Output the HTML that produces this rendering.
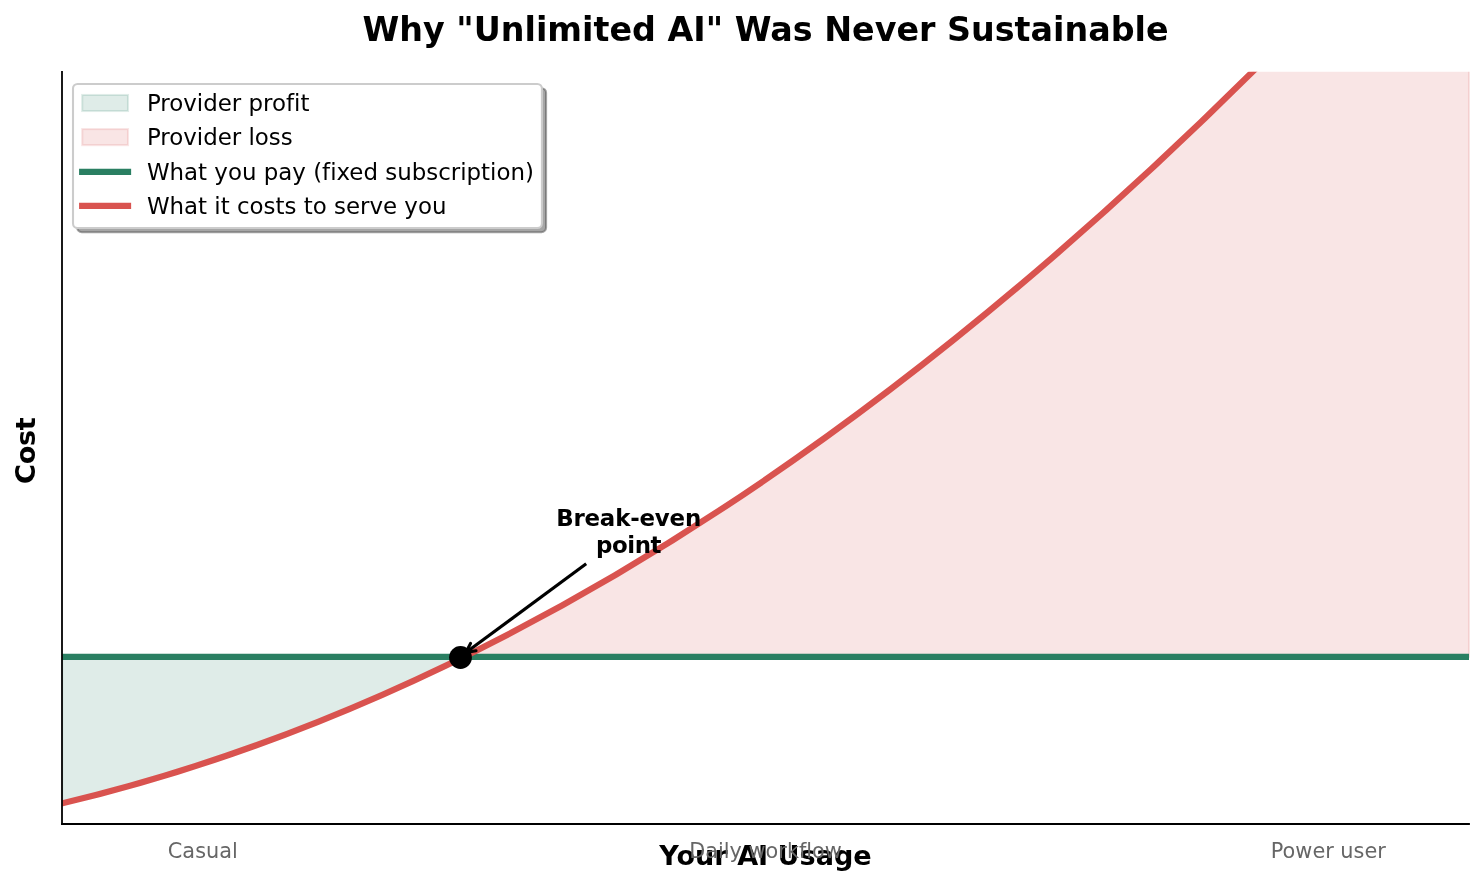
<!DOCTYPE html>
<html lang="en"><head><meta charset="utf-8"><title>Why "Unlimited AI" Was Never Sustainable</title>
<style>html,body{margin:0;padding:0;background:#fff}svg{display:block}</style></head>
<body>
<svg width="1484" height="886" viewBox="0 0 1484 886" font-family="DejaVu Sans, Liberation Sans, sans-serif" style="font-variant-ligatures:none">
<rect width="1484" height="886" fill="#fff"/>
<defs><clipPath id="ax"><rect x="62.1" y="71.85" width="1406.90" height="751.85"/></clipPath><clipPath id="axf"><rect x="62.1" y="71.85" width="1408.00" height="751.85"/></clipPath></defs>
<g clip-path="url(#axf)">
<path d="M62.1 656.9 L62.1 803.39 Q262.95 755.71 463.80 656.90 Z" fill="#2a7f62" fill-opacity="0.15" stroke="#2a7f62" stroke-opacity="0.15" stroke-width="2.08" stroke-linejoin="round"/>
<path d="M463.80 656.9 Q966.40 409.65 1469.00 -157.75 L1469.0 656.9 Z" fill="#d9534f" fill-opacity="0.15" stroke="#d9534f" stroke-opacity="0.15" stroke-width="2.08" stroke-linejoin="round"/>
</g>
<g clip-path="url(#ax)">
<path d="M57.1 656.9 H1474.0" stroke="#2a7f62" stroke-width="6.25" fill="none"/>
<path d="M52.1 805.73 Q760.55 642.03 1469.00 -157.75" stroke="#d9534f" stroke-width="6.25" fill="none"/>
</g>
<circle cx="460.5" cy="657.5" r="11.4" fill="#000"/>
<path d="M62 70.95 V824.90" stroke="#000" stroke-width="1.8" fill="none"/>
<path d="M61.10 824 H1469.90" stroke="#000" stroke-width="1.8" fill="none"/>
<text x="765.55" y="864.75" font-size="27.08" font-weight="bold" fill="#000" text-anchor="middle">Your AI Usage</text>
<text x="202.8" y="857.6" font-size="20.83" fill="#666" text-anchor="middle">Casual</text>
<text x="765.55" y="857.6" font-size="20.83" fill="#666" text-anchor="middle">Daily workflow</text>
<text x="1328.3" y="857.6" font-size="20.83" fill="#666" text-anchor="middle">Power user</text>
<text transform="translate(35.2 450.6) rotate(-90)" font-size="27.08" font-weight="bold" fill="#000" text-anchor="middle" textLength="66.7" lengthAdjust="spacing">Cost</text>
<text x="765.55" y="41" font-size="33.33" font-weight="bold" fill="#000" text-anchor="middle">Why "Unlimited AI" Was Never Sustainable</text>
<path d="M586.2 563.8 L465.9 652.5" stroke="#000" stroke-width="3.125" fill="none" stroke-linecap="butt"/>
<path d="M476.00 650.75 L465.9 652.5 L470.56 643.37" stroke="#000" stroke-width="3.125" fill="none" stroke-linecap="round" stroke-linejoin="round"/>
<text x="628.7" y="525.6" font-size="22.92" font-weight="bold" fill="#000" text-anchor="middle" textLength="145.1" lengthAdjust="spacing">Break-even</text>
<text x="628.7" y="552.7" font-size="22.92" font-weight="bold" fill="#000" text-anchor="middle" textLength="65.6" lengthAdjust="spacing">point</text>
<rect x="77.17" y="88.17" width="468.90" height="144.00" rx="4.58" fill="#4d4d4d" fill-opacity="0.5" stroke="#4d4d4d" stroke-opacity="0.5" stroke-width="2.08"/>
<rect x="73.0" y="84.0" width="468.90" height="144.00" rx="4.58" fill="#fff" stroke="#ccc" stroke-width="2.08"/>
<rect x="82.2" y="94.98" width="45.80" height="16.04" fill="#2a7f62" fill-opacity="0.15" stroke="#2a7f62" stroke-opacity="0.15" stroke-width="2.08"/>
<rect x="82.2" y="129.08" width="45.80" height="16.04" fill="#d9534f" fill-opacity="0.15" stroke="#d9534f" stroke-opacity="0.15" stroke-width="2.08"/>
<path d="M82.2 171.75 H128.0" stroke="#2a7f62" stroke-width="6.25" stroke-linecap="square" fill="none"/>
<path d="M82.2 205.90 H128.0" stroke="#d9534f" stroke-width="6.25" stroke-linecap="square" fill="none"/>
<text x="146.9" y="111.3" font-size="22.92" fill="#000">Provider profit</text>
<text x="146.9" y="144.8" font-size="22.92" fill="#000">Provider loss</text>
<text x="146.9" y="179.85" font-size="22.92" fill="#000">What you pay (fixed subscription)</text>
<text x="146.9" y="214.1" font-size="22.92" fill="#000">What it costs to serve you</text>
</svg>
</body></html>
